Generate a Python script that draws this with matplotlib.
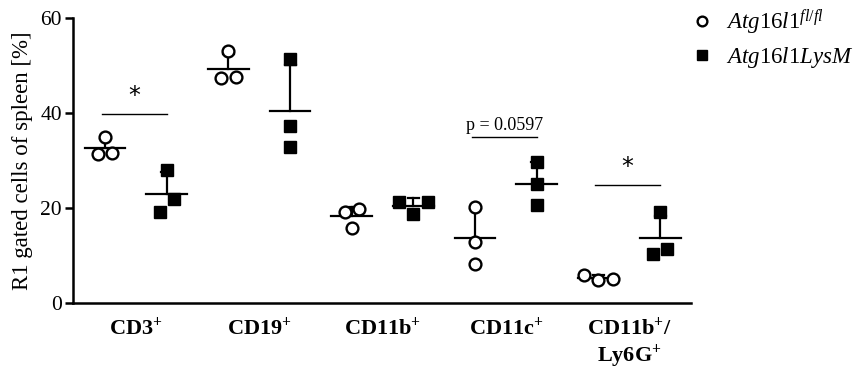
import matplotlib.pyplot as plt
import numpy as np

plt.rcParams['font.family'] = 'Liberation Serif'
plt.rcParams['mathtext.fontset'] = 'custom'
plt.rcParams['mathtext.rm'] = 'Liberation Serif'
plt.rcParams['mathtext.it'] = 'Liberation Serif:italic'
plt.rcParams['mathtext.bf'] = 'Liberation Serif:bold'

# data (3 mice per group)
categories = [r"CD3$^{\mathbf{+}}$", r"CD19$^{\mathbf{+}}$", r"CD11b$^{\mathbf{+}}$",
              r"CD11c$^{\mathbf{+}}$", "CD11b$^{\\mathbf{+}}$/\nLy6G$^{\\mathbf{+}}$"]
flox = [[34.8, 31.4, 31.6],
        [52.9, 47.2, 47.6],
        [19.7, 19.0, 15.8],
        [20.1, 12.8, 8.1],
        [5.8, 4.8, 5.0]]
lysm = [[27.9, 19.2, 21.8],
        [51.3, 37.1, 32.7],
        [21.3, 21.3, 18.6],
        [29.6, 24.9, 20.6],
        [19.0, 11.4, 10.2]]
labels = [r"$\it{Atg16l1}^{\it{fl/fl}}$", r"$\it{Atg16l1LysM}$"]
# significance annotations: (category index, text, height)
sig = [(0, "*", 39.8), (3, "p = 0.0597", 34.8), (4, "*", 24.8)]


def spread(vals, thresh=3.0, step=0.23):
    # simple swarm: points closer than thresh share a row and are spread sideways
    vals = np.asarray(vals)
    order = np.argsort(vals)
    offs = np.zeros(len(vals))
    clusters = [[order[0]]]
    for i in order[1:]:
        if vals[i] - vals[clusters[-1][-1]] < thresh:
            clusters[-1].append(i)
        else:
            clusters.append([i])
    for c in clusters:
        if len(c) == 2:
            offs[c[0]], offs[c[1]] = -step / 2, step / 2
        elif len(c) == 3:
            offs[c[0]], offs[c[1]], offs[c[2]] = 0, step, -step
    return offs


fig = plt.figure(figsize=(8.56, 3.69), dpi=100)
ax = fig.add_axes([73 / 856, 1 - 302.7 / 369, 618 / 856, 285 / 369])

for k in range(len(categories)):
    for j, (grp, filled) in enumerate([(flox[k], False), (lysm[k], True)]):
        x0 = 2 * k + j
        v = np.array(grp)
        m, sd = v.mean(), v.std(ddof=1)
        ax.plot([x0 - 0.33, x0 + 0.33], [m, m], color='black', lw=1.6, zorder=2)
        ax.plot([x0, x0], [m, m + sd], color='black', lw=1.6, zorder=2)
        ax.plot([x0 - 0.09, x0 + 0.09], [m + sd, m + sd], color='black', lw=1.6, zorder=2)
        xs = x0 + spread(v)
        if filled:
            ax.plot(xs, v, 's', color='black', ms=8, zorder=3, clip_on=False)
        else:
            ax.plot(xs, v, 'o', mfc='white', mec='black', mew=1.7, ms=8.5,
                    zorder=3, clip_on=False)

for k, txt, h in sig:
    ax.plot([2 * k - 0.05, 2 * k + 1], [h, h], color='black', lw=1.0)
    if txt == "*":
        ax.text(2 * k + 0.47, h + 3.8, txt, ha='center', va='center', fontsize=17,
                family='DejaVu Sans')
    else:
        ax.text(2 * k + 0.47, h + 2.6, txt, ha='center', va='center', fontsize=13)

ax.set_xlim(-0.52, 9.5)
ax.set_ylim(0, 60)
ax.set_yticks([0, 20, 40, 60])
ax.set_xticks([2 * k + 0.5 for k in range(len(categories))])
ax.set_xticklabels(categories, fontweight='bold', fontsize=16, va='top',
                   linespacing=1.15)
ax.tick_params(axis='x', length=0, pad=10)
ax.tick_params(axis='y', length=6, width=1.8, labelsize=15.5, pad=2)
ax.set_ylabel("R1 gated cells of spleen [%]", fontsize=16.5, labelpad=5)
for s in ['top', 'right']:
    ax.spines[s].set_visible(False)
for s in ['left', 'bottom']:
    ax.spines[s].set_linewidth(1.8)

h1, = ax.plot([], [], 'o', mfc='white', mec='black', mew=1.7, ms=7)
h2, = ax.plot([], [], 's', color='black', ms=7)
fig.legend([h1, h2], labels, loc='upper left', bbox_to_anchor=(670 / 856, 1.035),
           frameon=False, fontsize=16.5, handletextpad=0.55, labelspacing=0.35,
           handlelength=1.0)

fig.savefig('out.png', dpi=100)
